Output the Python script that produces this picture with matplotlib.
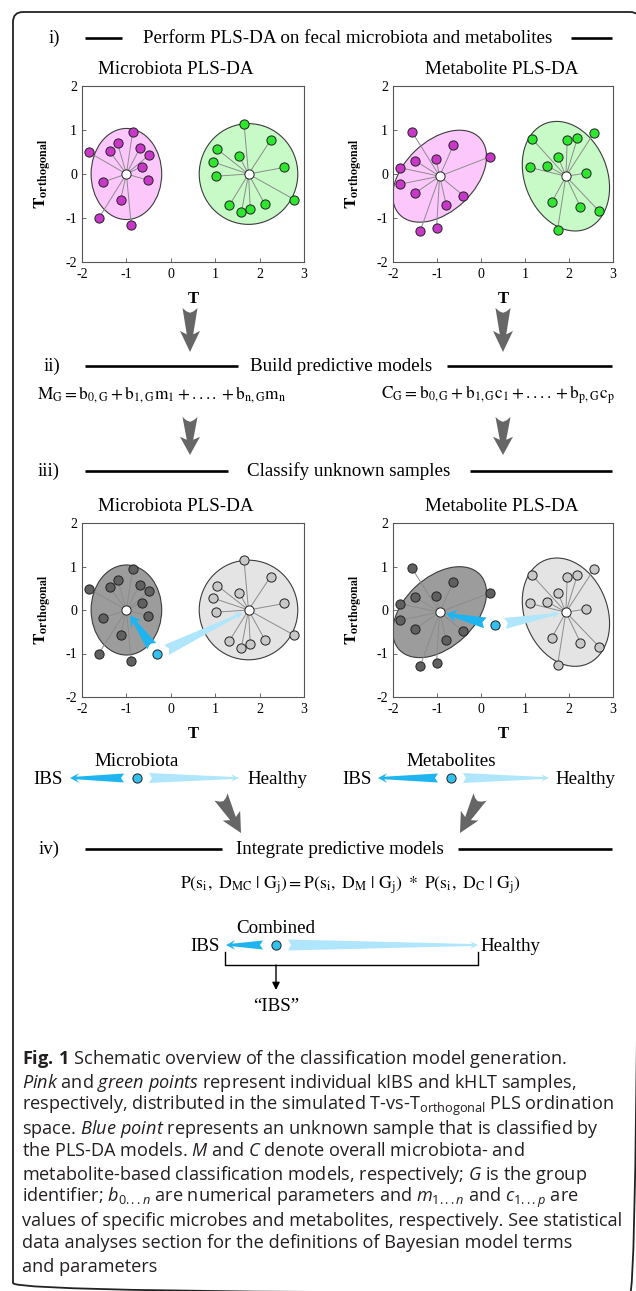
import numpy as np
import matplotlib
matplotlib.use('Agg')
import matplotlib.pyplot as plt
from matplotlib.patches import Ellipse, Polygon, FancyBboxPatch

plt.rcParams['mathtext.fontset'] = 'custom'
plt.rcParams['mathtext.rm'] = 'Open Sans'
plt.rcParams['mathtext.it'] = 'Open Sans:italic'
plt.rcParams['mathtext.bf'] = 'Open Sans:bold'
plt.rcParams['axes.unicode_minus'] = False

# ---------------- data ----------------
x_limits = [-2, 3]
y_limits = [-2, 2]
x_ticks = [-2, -1, 0, 1, 2, 3]
y_ticks = [-2, -1, 0, 1, 2]

mic_ibs_x = [-1.84, -1.62, -1.52, -1.38, -1.20, -1.13, -0.89, -0.86, -0.70, -0.65, -0.49, -0.51]
mic_ibs_y = [0.49, -1.00, -0.18, 0.52, 0.70, -0.58, -1.17, 0.95, 0.58, 0.17, 0.43, -0.14]
mic_hlt_x = [1.65, 2.25, 1.05, 1.54, 0.96, 2.56, 1.02, 2.78, 1.32, 1.59, 1.79, 2.12]
mic_hlt_y = [1.14, 0.77, 0.56, 0.40, 0.27, 0.15, -0.05, -0.58, -0.71, -0.87, -0.79, -0.69]
mic_ibs_center = [-1.0, 0.0]
mic_hlt_center = [1.75, 0.0]
mic_ibs_ellipse = [1.59, 2.07, 0.0]      # width, height, angle
mic_hlt_ellipse = [2.22, 2.29, 0.0]
mic_unknown = [-0.30, -1.02]

met_ibs_x = [-1.57, -0.63, -1.49, -1.02, 0.20, -1.83, -1.83, -1.49, -0.40, -0.79, -1.38, -1.01]
met_ibs_y = [0.96, 0.65, 0.30, 0.33, 0.39, 0.14, -0.23, -0.43, -0.49, -0.70, -1.29, -1.22]
met_hlt_x = [1.16, 1.96, 2.19, 2.57, 1.75, 1.11, 1.50, 2.39, 1.61, 2.26, 2.68, 1.74]
met_hlt_y = [0.80, 0.77, 0.81, 0.94, 0.39, 0.15, 0.19, 0.02, -0.64, -0.75, -0.84, -1.27]
met_ibs_center = [-0.94, -0.05]
met_hlt_center = [1.93, -0.05]
met_ibs_ellipse = [2.52, 1.60, 43.7]
met_hlt_ellipse = [2.57, 1.88, -68.8]
met_unknown = [0.32, -0.35]

section_labels = ['i)', 'ii)', 'iii)', 'iv)']
section_titles = ['Perform PLS-DA on fecal microbiota and metabolites',
                  'Build predictive models',
                  'Classify unknown samples',
                  'Integrate predictive models']
panel_titles = ['Microbiota PLS-DA', 'Metabolite PLS-DA']
formula_m = r'$\mathrm{M_G = b_{0,G} + b_{1,G}m_1 + .... + b_{n,G}m_n}$'
formula_c = r'$\mathrm{C_G = b_{0,G} + b_{1,G}c_1 + .... + b_{p,G}c_p}$'
formula_p = r'$\mathrm{P(s_i,\ D_{MC}\ |\ G_j) = P(s_i,\ D_M\ |\ G_j)\ *\ P(s_i,\ D_C\ |\ G_j)}$'

caption_lines = [
    r'$\mathbf{Fig.\,1}$ Schematic overview of the classification model generation.',
    r'$\mathit{Pink}$ and $\mathit{green\ points}$ represent individual kIBS and kHLT samples,',
    r'respectively, distributed in the simulated T-vs-$\mathrm{T}_{\mathrm{orthogonal}}$ PLS ordination',
    r'space. $\mathit{Blue\ point}$ represents an unknown sample that is classified by',
    r'the PLS-DA models. $\mathit{M}$ and $\mathit{C}$ denote overall microbiota- and',
    r'metabolite-based classification models, respectively; $\mathit{G}$ is the group',
    r'identifier; $\mathit{b}_{\mathit{0...n}}$ are numerical parameters and $\mathit{m}_{\mathit{1...n}}$ and $\mathit{c}_{\mathit{1...p}}$ are',
    r'values of specific microbes and metabolites, respectively. See statistical',
    r'data analyses section for the definitions of Bayesian model terms',
    r'and parameters',
]

# ---------------- styles ----------------
W, H = 636, 1291
SERIF = 'Liberation Serif'
CAP = 'Open Sans'
FS = 13.7
PINK_FILL, PINK_DOT = '#fcc8fc', '#c838c8'
GREEN_FILL, GREEN_DOT = '#c8fac8', '#2ee62e'
DKG_FILL, DKG_DOT = '#9c9c9c', '#606060'
LTG_FILL, LTG_DOT = '#e4e4e4', '#c8c8c8'
BLUE_DOT, BLUE_DARK, BLUE_LIGHT = '#33c0ee', '#1eb4f0', '#b0e6fb'
ARROW_GRAY = '#666666'

fig = plt.figure(figsize=(W / 100, H / 100), dpi=100)
fig.patch.set_facecolor('white')

ov = fig.add_axes([0, 0, 1, 1], zorder=10)
ov.set_xlim(0, W)
ov.set_ylim(H, 0)
ov.axis('off')
ov.patch.set_alpha(0)


def px_axes(x0, y0, x1, y1):
    return fig.add_axes([x0 / W, 1 - y1 / H, (x1 - x0) / W, (y1 - y0) / H])


def d2p(ax, x, y):
    X, Y = ax.transData.transform((x, y))
    return np.array([X, H - Y])


def stext(x, y, s, size=FS, ha='center', **kw):
    ov.text(x, y + size * 0.44, s, fontsize=size, family=SERIF, ha=ha, va='baseline',
            math_fontfamily='stix', color='black', **kw)


def taper_arrow(tail, tip, w_tail, w_neck, head_w, head_l, color, notch=3.0):
    tail = np.asarray(tail, float)
    tip = np.asarray(tip, float)
    v = tip - tail
    L = np.hypot(*v)
    u = v / L
    n = np.array([-u[1], u[0]])
    a_neck = L - head_l * 0.7
    a_barb = L - head_l
    local = [(notch, 0), (0, w_tail / 2), (a_neck, w_neck / 2), (a_barb, head_w / 2), (L, 0),
             (a_barb, -head_w / 2), (a_neck, -w_neck / 2), (0, -w_tail / 2)]
    pts = [tail + a * u + b * n for a, b in local]
    ov.add_patch(Polygon(pts, closed=True, fc=color, ec='none', zorder=5))


def gray_arrow(p0, p1, color=ARROW_GRAY):
    p0 = np.asarray(p0, float)
    p1 = np.asarray(p1, float)
    v = p1 - p0
    L = np.hypot(*v)
    u = v / L
    n = np.array([-u[1], u[0]])
    local = [(0, 7.5), (0.38 * L, 4.8), (0.60 * L, 3.2), (0.52 * L, 10.0), (L, 0),
             (0.52 * L, -10.0), (0.60 * L, -3.2), (0.38 * L, -4.8), (0, -7.5),
             (3.2, -3.8), (4.8, 0), (3.2, 3.8)]
    pts = [p0 + a * u + b * n for a, b in local]
    ov.add_patch(Polygon(pts, closed=True, fc=color, ec='none', zorder=5))


def header(y, label, title, l1, l2, xc):
    stext(60, y, label, ha='right')
    stext(xc, y, title)
    ov.plot(l1, [y + 1, y + 1], color='black', lw=1.9, solid_capstyle='butt')
    ov.plot(l2, [y + 1, y + 1], color='black', lw=1.9, solid_capstyle='butt')


def pls_panel(box, groups, unknown=None):
    ax = px_axes(*box)
    ax.set_xlim(*x_limits)
    ax.set_ylim(*y_limits)
    ax.set_xticks(x_ticks)
    ax.set_yticks(y_ticks)
    ax.set_xticklabels([str(t) for t in x_ticks], family=SERIF, fontsize=10)
    ax.set_yticklabels([str(t) for t in y_ticks], family=SERIF, fontsize=10)
    ax.tick_params(direction='in', length=3, width=0.6, color='#555555')
    ax.tick_params(axis='x', pad=4)
    ax.tick_params(axis='y', pad=3.5)
    for sp in ax.spines.values():
        sp.set_color('#555555')
        sp.set_linewidth(0.8)
    for xs, ys, c, ell, fill, dot in groups:
        ax.add_patch(Ellipse(c, ell[0], ell[1], angle=ell[2], fc=fill, ec='#3c3c3c',
                             lw=0.8, zorder=1))
        for x, y in zip(xs, ys):
            ax.plot([c[0], x], [c[1], y], color='#8c8c8c', lw=0.7, zorder=2)
        ax.scatter(xs, ys, s=44, c=dot, edgecolors='#222222', linewidths=0.7, zorder=3)
        ax.scatter([c[0]], [c[1]], s=44, c='white', edgecolors='#222222', linewidths=0.7, zorder=4)
    if unknown is not None:
        ax.scatter([unknown[0]], [unknown[1]], s=44, c=BLUE_DOT, edgecolors='#222222',
                   linewidths=0.7, zorder=6)
        pd = d2p(ax, *unknown)
        for center, col, wt, wn, hw, hl in ((groups[0][2], BLUE_DARK, 11, 3.5, 13, 11),
                                            (groups[1][2], BLUE_LIGHT, 11, 2.2, 8, 8)):
            pc = d2p(ax, *center)
            v = pc - pd
            u = v / np.hypot(*v)
            taper_arrow(pd + u * 10, pc - u * 6.5, wt, wn, hw, hl, col)
    cx = (box[0] + box[2]) / 2
    cy = (box[1] + box[3]) / 2
    stext(cx, box[3] + 36, 'T', size=12, weight='bold')
    ov.text(box[0] - 39, cy, r'$\mathbf{T}_{\mathbf{orthogonal}}$', fontsize=12.5, family=SERIF,
            math_fontfamily='stix', rotation=90, ha='center', va='center')
    return ax


# ---------------- frame ----------------
ov.add_patch(FancyBboxPatch((13, 12), 640 - 13, 1293 - 12,
                            boxstyle='round,pad=0,rounding_size=10',
                            fc='none', ec='#222222', lw=1.3, clip_on=False))

# ---------------- section i ----------------
header(37, section_labels[0], section_titles[0], [85, 122], [571, 612], 348)
stext(176, 68, panel_titles[0])
stext(502, 68, panel_titles[1])

top_l = (82, 86, 304, 262)
top_r = (393, 86, 613, 262)
low_l = (82, 523, 304, 697)
low_r = (393, 523, 613, 697)

pls_panel(top_l, [(mic_ibs_x, mic_ibs_y, mic_ibs_center, mic_ibs_ellipse, PINK_FILL, PINK_DOT),
                  (mic_hlt_x, mic_hlt_y, mic_hlt_center, mic_hlt_ellipse, GREEN_FILL, GREEN_DOT)])
pls_panel(top_r, [(met_ibs_x, met_ibs_y, met_ibs_center, met_ibs_ellipse, PINK_FILL, PINK_DOT),
                  (met_hlt_x, met_hlt_y, met_hlt_center, met_hlt_ellipse, GREEN_FILL, GREEN_DOT)])

gray_arrow((190, 308), (190, 352))
gray_arrow((503, 308), (503, 352))

# ---------------- section ii ----------------
header(365, section_labels[1], section_titles[1], [85, 238], [447, 612], 341)
stext(162, 393, formula_m, size=12.4)
stext(498, 393, formula_c, size=12.4)

gray_arrow((190, 417), (190, 455))
gray_arrow((503, 417), (503, 455))

# ---------------- section iii ----------------
header(470, section_labels[2], section_titles[2], [85, 228], [470, 612], 349)
stext(176, 505, panel_titles[0])
stext(502, 505, panel_titles[1])

pls_panel(low_l, [(mic_ibs_x, mic_ibs_y, mic_ibs_center, mic_ibs_ellipse, DKG_FILL, DKG_DOT),
                  (mic_hlt_x, mic_hlt_y, mic_hlt_center, mic_hlt_ellipse, LTG_FILL, LTG_DOT)],
          unknown=mic_unknown)
pls_panel(low_r, [(met_ibs_x, met_ibs_y, met_ibs_center, met_ibs_ellipse, DKG_FILL, DKG_DOT),
                  (met_hlt_x, met_hlt_y, met_hlt_center, met_hlt_ellipse, LTG_FILL, LTG_DOT)],
          unknown=met_unknown)


# ---------------- decision rows ----------------
def decision_row(y, dot_x, dark_tip, light_tip, label, ibs_x, healthy_x, light_w=10):
    stext(dot_x, y - 18, label)
    stext(ibs_x, y, 'IBS', ha='right')
    stext(healthy_x, y, 'Healthy', ha='left')
    taper_arrow((dot_x - 13, y), (dark_tip, y), 9, 2.6, 9.5, 9, BLUE_DARK)
    taper_arrow((dot_x + 12, y), (light_tip, y), light_w, 2.0, 7.5, 8, BLUE_LIGHT)
    ov.scatter([dot_x], [y], s=44, c=BLUE_DOT, edgecolors='#222222', linewidths=0.7, zorder=6)


decision_row(778, 137, 70, 239, 'Microbiota', 63, 247)
decision_row(778, 451, 378, 549, 'Metabolites', 372, 555)

gray_arrow((221, 797), (241, 833))
gray_arrow((480, 797), (460, 833))

# ---------------- section iv ----------------
header(848, section_labels[3], section_titles[3], [85, 222], [458, 612], 340)
stext(350, 883, formula_p, size=12.7)

decision_row(945, 276, 226, 478, 'Combined', 220, 480, light_w=11)
ov.plot([225, 225, 478, 478], [952, 965, 965, 952], color='black', lw=1.0)
ov.annotate('', xy=(276, 990), xytext=(276, 965),
            arrowprops=dict(arrowstyle='-|>', color='black', lw=1.0, mutation_scale=11,
                            shrinkA=0, shrinkB=0))
stext(276, 1005, '\u201cIBS\u201d')

# ---------------- caption ----------------
renderer = fig.canvas.get_renderer()
probe = ov.text(22, 0, caption_lines[2], fontsize=12, family=CAP, math_fontfamily='custom')
wprobe = probe.get_window_extent(renderer=renderer).width
probe.remove()
cap_size = 12 * 592 / wprobe
for k, line in enumerate(caption_lines):
    ov.text(22, 1059 + 23 * k + 5.5, line, fontsize=cap_size, family=CAP,
            math_fontfamily='custom', color='#231f20', ha='left', va='baseline')

fig.savefig('out.png', dpi=100, facecolor='white')
